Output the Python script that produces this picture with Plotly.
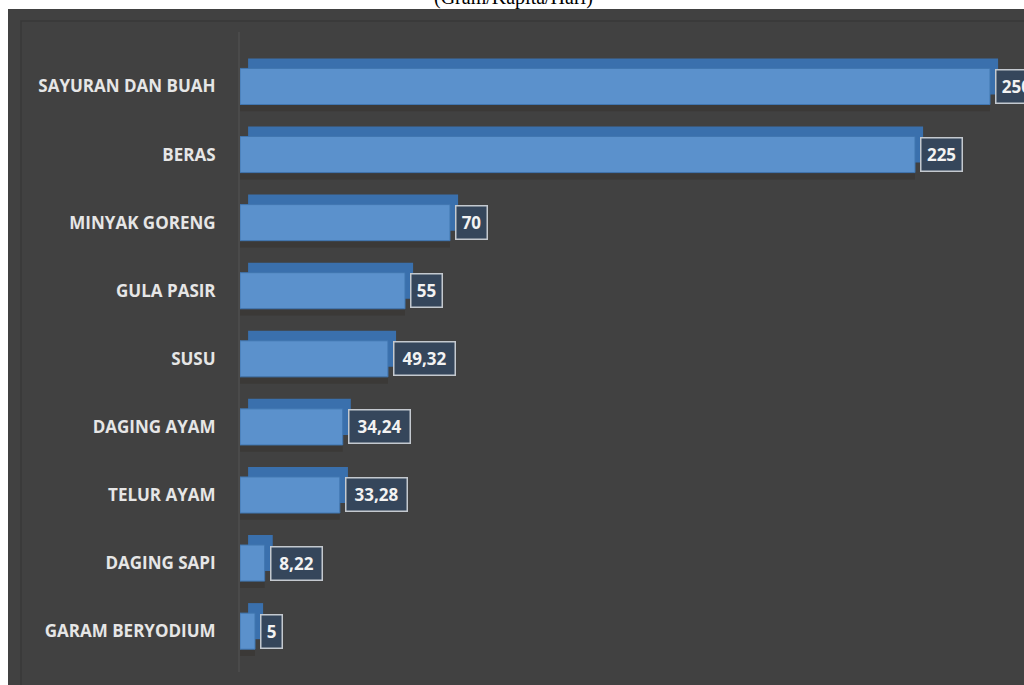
import plotly.graph_objects as go

categories = ["SAYURAN DAN BUAH", "BERAS", "MINYAK GORENG", "GULA PASIR", "SUSU",
              "DAGING AYAM", "TELUR AYAM", "DAGING SAPI", "GARAM BERYODIUM"]
values = [250, 225, 70, 55, 49.32, 34.24, 33.28, 8.22, 5]
value_labels = ["250", "225", "70", "55", "49,32", "34,24", "33,28", "8,22", "5"]
title_text = "(Gram/Kapita/Hari)"

W, H = 1024, 685
ML, MR, MT, MB = 240, 4, 32, 13
PW, PH = W - ML - MR, H - MT - MB


def px(x):
    return (x - ML) / PW


def py(y):
    return (H - MB - y) / PH


BW = 0.53
depth_x = 2.7   # axis units (~8px)
depth_y = 0.147  # category units (~10px)

fig = go.Figure()

# shadow
fig.add_trace(go.Bar(
    y=categories, x=values, base=0, orientation="h",
    width=BW, offset=-BW / 2 + 0.1,
    marker=dict(color="rgba(40,30,25,0.22)", line=dict(width=0)),
    hoverinfo="skip", showlegend=False))
# top/right face (depth)
fig.add_trace(go.Bar(
    y=categories, x=values, base=depth_x, orientation="h",
    width=BW, offset=-BW / 2 - depth_y,
    marker=dict(color="#3a70ad", line=dict(width=0)),
    hoverinfo="skip", showlegend=False))
# front face
fig.add_trace(go.Bar(
    y=categories, x=values, base=0, orientation="h",
    width=BW, offset=-BW / 2,
    marker=dict(color="#5b91cc", line=dict(color="#4176b0", width=1)),
    showlegend=False))

annotations = []
for c, v, t in zip(categories, values, value_labels):
    annotations.append(dict(
        x=v, y=c, xref="x", yref="y", text="<b>" + t + "</b>",
        showarrow=False, xanchor="left", yanchor="middle", xshift=5,
        font=dict(family="Open Sans", size=17, color="#f2f2f2"),
        bgcolor="#35465b", bordercolor="#c4c9cf", borderwidth=1.5,
        borderpad=4, height=24, width=len(t) * 10 + 2))

annotations.append(dict(
    x=px(513), y=py(11), xref="paper", yref="paper", text=title_text,
    showarrow=False, xanchor="center", yanchor="bottom",
    font=dict(family="Liberation Serif", size=20, color="#000000")))

shapes = [
    dict(type="rect", xref="paper", yref="paper", layer="below",
         x0=px(8), x1=px(1030), y0=py(690), y1=py(9),
         fillcolor="#414141", line=dict(width=0)),
    dict(type="rect", xref="paper", yref="paper", layer="below",
         x0=px(21), x1=px(1030), y0=py(690), y1=py(21),
         fillcolor="rgba(0,0,0,0)", line=dict(color="#383838", width=1.5)),
]

fig.update_layout(
    width=W, height=H,
    margin=dict(l=ML, r=MR, t=MT, b=MB),
    paper_bgcolor="#ffffff", plot_bgcolor="rgba(0,0,0,0)",
    barmode="overlay",
    xaxis=dict(range=[0, 260], visible=False, showgrid=False, zeroline=False),
    yaxis=dict(range=[8.6, -0.8], showgrid=False, zeroline=False,
               showline=True, linecolor="#4a4a4a", linewidth=2,
               ticks="", ticklabelstandoff=19,
               tickfont=dict(family="Open Sans", size=17, color="#e6e6e6"),
               tickvals=categories,
               ticktext=["<b>" + c + "</b>" for c in categories]),
    shapes=shapes,
    annotations=annotations,
)

fig.write_html("out.html", config={"displayModeBar": False},
               post_script="document.body.style.margin='0';document.body.style.overflow='hidden';")
